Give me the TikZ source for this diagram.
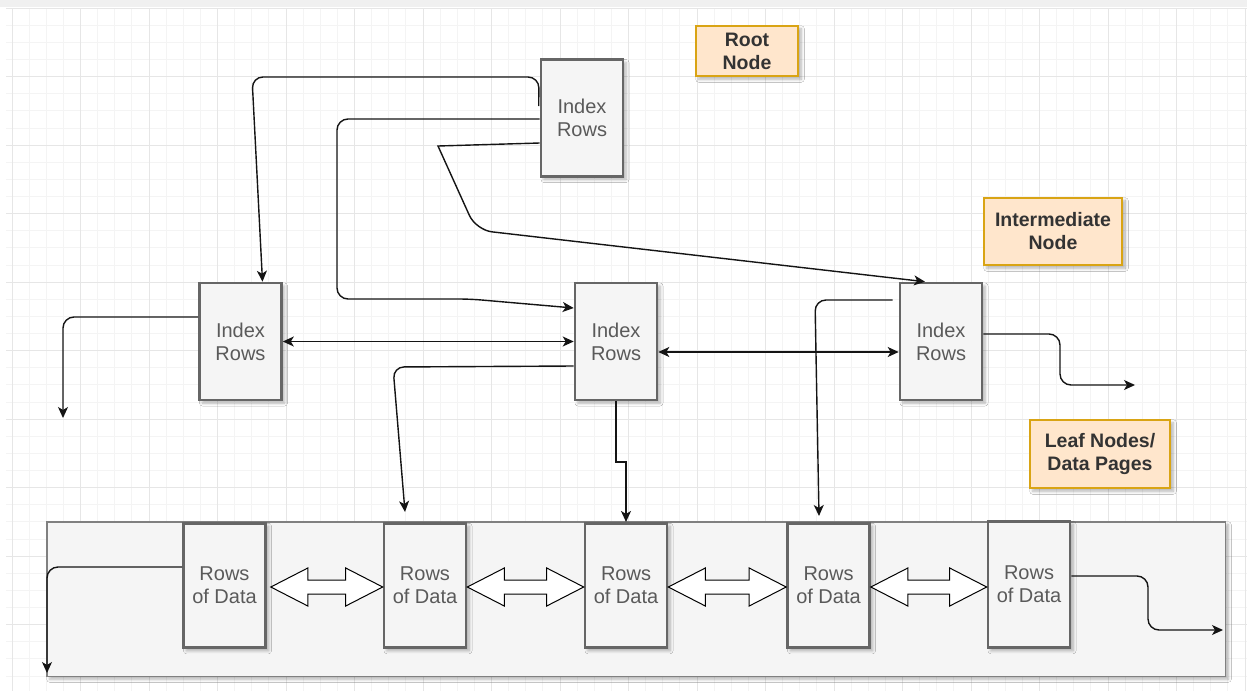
\documentclass[tikz,border=0pt]{standalone}
\usepackage{fontspec}
\setmainfont{Liberation Sans}
\usetikzlibrary{arrows.meta,shadows,shadows.blur,calc}
\definecolor{gridmaj}{HTML}{E6E6E6}
\definecolor{gridmin}{HTML}{F4F4F4}
\definecolor{topband}{HTML}{F0F0F0}
\definecolor{boxfill}{HTML}{F5F5F5}
\definecolor{boxline}{HTML}{666666}
\definecolor{contline}{HTML}{808080}
\definecolor{labfill}{HTML}{FFE6CC}
\definecolor{labline}{HTML}{D9A414}
\definecolor{txtgray}{HTML}{5A5A5A}
\definecolor{txtdark}{HTML}{333333}
\newcommand\bigdbl[2]{%
  \draw[bigarrow] let \p1=(#1), \p2=(#2) in
    (\x1,\y1) -- (\x1+37pt,\y1+19pt) -- (\x1+37pt,\y1+7pt) -- (\x2-37pt,\y1+7pt)
    -- (\x2-37pt,\y1+19pt) -- (\x2,\y1) -- (\x2-37pt,\y1-19pt) -- (\x2-37pt,\y1-7pt)
    -- (\x1+37pt,\y1-7pt) -- (\x1+37pt,\y1-19pt) -- cycle;}
\begin{document}
\begin{tikzpicture}[x=1pt,y=-1pt,
  shadowed/.style={blur shadow={shadow xshift=3pt,shadow yshift=-3pt,shadow blur radius=3pt,shadow blur steps=6,shadow opacity=30}},
  idxbox/.style={rectangle, draw=boxline, line width=2.6pt, fill=boxfill,
    minimum width=82pt, minimum height=117pt, inner sep=0pt, text=txtgray,
    font=\fontsize{20pt}{23pt}\selectfont, align=center, shadowed},
  databox/.style={idxbox, minimum height=124.5pt},
  contbox/.style={rectangle, draw=contline, line width=1.5pt, fill=boxfill,
    minimum width=1178.5pt, minimum height=154.5pt, inner sep=0pt, shadowed},
  labbox/.style={rectangle, draw=labline, line width=1.6pt, fill=labfill, inner sep=0pt,
    text=txtdark, font=\bfseries\fontsize{19.5pt}{23pt}\selectfont, align=center, shadowed},
  conn/.style={line width=1.4pt, draw=black!92, rounded corners=11pt},
  tip/.tip={Stealth[length=11pt,width=10pt,inset=3pt]},
  arr/.style={-tip},
  darr/.style={tip-tip},
  bigarrow/.style={draw=black, line width=1pt, fill=white, line join=miter}
]
\useasboundingbox (0,0) rectangle (1247,691);
\fill[white] (0,0) rectangle (1247,691);
\fill[topband] (0,0) rectangle (1247,7);
% grid
\foreach \i in {0,...,72} \draw[gridmin, line width=1pt] ({12+17.125*\i},8) -- ({12+17.125*\i},691);
\foreach \j in {0,...,39} \draw[gridmin, line width=1pt] (6,{8.2+17.125*\j}) -- (1247,{8.2+17.125*\j});
\foreach \i in {0,...,18} \draw[gridmaj, line width=1pt] ({12+68.5*\i},8) -- ({12+68.5*\i},691);
\foreach \j in {0,...,9} \draw[gridmaj, line width=1pt] (6,{8.2+68.5*\j}) -- (1247,{8.2+68.5*\j});

% labels
\node[labbox, minimum width=102.5pt, minimum height=50.5pt] (lroot) at (747,51) {Root\\Node};
\node[labbox, minimum width=138.5pt, minimum height=67.5pt] (linter) at (1053,231.5) {Intermediate\\Node};
\node[labbox, minimum width=140.5pt, minimum height=68.5pt] (lleaf) at (1100,454) {Leaf Nodes/\\Data Pages};

% container and data pages
\node[contbox] (cont) at (636,599) {};
\node[databox] (d1) at (224.5,585.5) {Rows\\of Data};
\node[databox] (d2) at (425,585.5) {Rows\\of Data};
\node[databox] (d3) at (626,585.5) {Rows\\of Data};
\node[databox] (d4) at (828.5,585.5) {Rows\\of Data};
\node[databox, minimum height=126.5pt] (d5) at (1029,584.5) {Rows\\of Data};

% index nodes
\node[idxbox] (root) at (582,118) {Index\\Rows};
\node[idxbox] (lidx) at (240.5,341.5) {Index\\Rows};
\node[idxbox] (midx) at (616,341.5) {Index\\Rows};
\node[idxbox] (ridx) at (941,341.5) {Index\\Rows};

% free ends
\coordinate (e1) at (1135,385);
\coordinate (e2) at (63,418);
\coordinate (e3) at (47,673);
\coordinate (e4) at (1223,630);

% root connectors
\draw[conn,arr] ([xshift=-1pt,yshift=12pt]root.west) -- (539,77) -- (252,77) -- ([xshift=22pt]lidx.north);
\draw[conn,arr] ([yshift=-1pt]root.west) -- (337,119) -- (337,299) -- (470,299) -- ([yshift=33.5pt]midx.west);
\draw[conn,arr,sharp corners] ([yshift=-25pt]root.west) -- (438,146) [rounded corners=16pt] -- (476,230) -- ([xshift=-16pt]ridx.north);

% intermediate connectors
\draw[conn,arr] ([yshift=24.5pt]lidx.west) -| (e2);
\draw[conn,darr] (lidx.east) -- (midx.west);
\draw[conn,darr] ([yshift=-10.5pt]midx.east) -- ([yshift=-10.5pt]ridx.west);
\draw[conn,arr] ([yshift=-24.5pt]midx.west) -- (393,367) -- ([xshift=-20pt,yshift=10pt]d2.north);
\draw[conn,arr,sharp corners] (midx.south) -- (616,462) -- (626,462) -- (d3.north);
\draw[conn,arr] ([xshift=-6pt,yshift=41.5pt]ridx.west) -- (815,300) -- ([xshift=-9.5pt,yshift=6pt]d4.north);
\draw[conn,arr] ([yshift=7.5pt]ridx.east) -- (1060,334) -- (1060,385) -- (e1);

% leaf connectors
\draw[conn,arr] ([yshift=18.5pt]d1.west) -| (e3);
\draw[conn,arr] ([yshift=8.5pt]d5.east) -- (1148,576) -- (1148,630) -- (e4);

% big double arrows
\bigdbl{[xshift=4pt,yshift=-1.5pt]d1.east}{[yshift=-1.5pt]d2.west}
\bigdbl{[yshift=-1.5pt]d2.east}{[yshift=-1.5pt]d3.west}
\bigdbl{[yshift=-1.5pt]d3.east}{[yshift=-1.5pt]d4.west}
\bigdbl{[yshift=-1.5pt]d4.east}{[yshift=-1.5pt]d5.west}
\end{tikzpicture}
\end{document}
